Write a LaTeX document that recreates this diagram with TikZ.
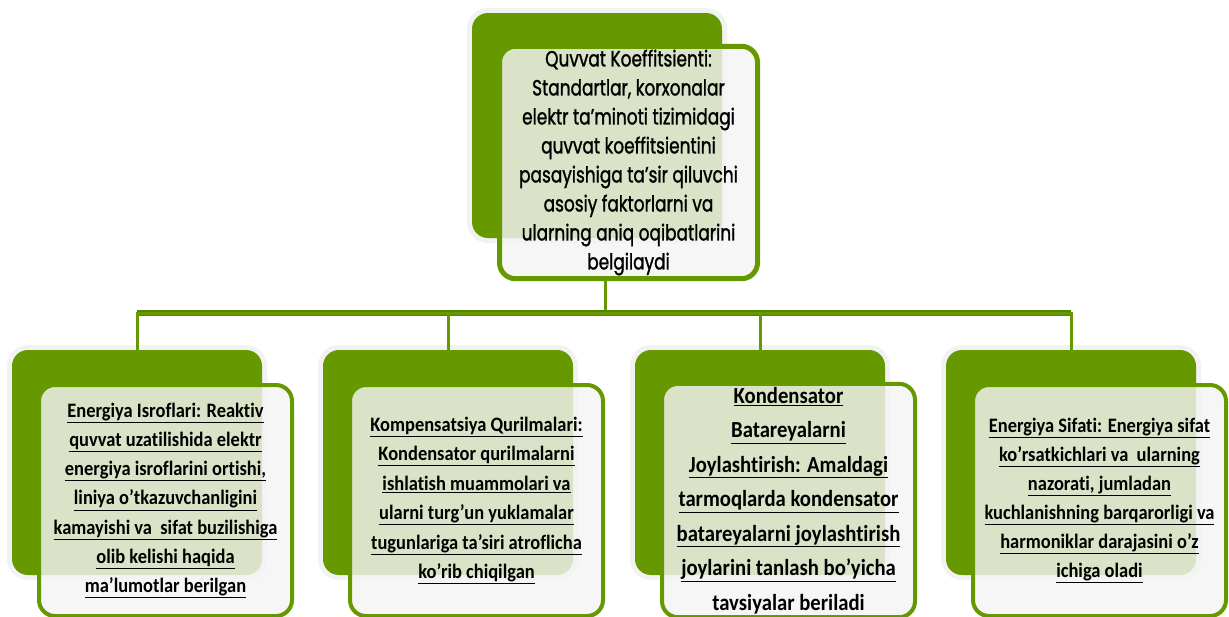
\documentclass[tikz,border=0pt]{standalone}
\usepackage{fontspec}
\setmainfont{Carlito}
\newfontfamily\gothic[FakeStretch=0.77, FakeBold=1.2]{Poppins}
\newfontfamily\calib[FakeStretch=0.9, Ligatures=NoCommon]{Carlito}
\definecolor{leaf}{RGB}{102,153,0}
\definecolor{paper}{RGB}{244,244,244}

\begin{document}
\begin{tikzpicture}
	[x=1pt, y=-1pt,
	back/.style={fill=leaf, rounded corners=16pt, minimum width=250pt, minimum height=225pt,
		preaction={draw=black!5, line width=10pt}},
	front/.style={draw=leaf, line width=4pt, fill=paper, fill opacity=0.82, text opacity=1,
		rounded corners=16pt, minimum width=253pt, minimum height=231pt, align=center},
	link/.style={leaf, line width=3pt},
	bus/.style={leaf!85!black, line width=6pt}]

	\clip (0,0) rectangle (1229,616);

	% Draw top box
	\node[back] (topback) at (597,125.5) {};
	\node[front, line width=5pt, minimum width=258pt, minimum height=230pt,
		font=\gothic\fontsize{22}{29}\selectfont] (top) at (628.5,162.5)
		{Quvvat Koeffitsienti:\\ Standartlar, korxonalar\\ elektr ta’minoti tizimidagi\\
		 quvvat koeffitsientini\\ pasayishiga ta’sir qiluvchi\\ asosiy faktorlarni va\\
		 ularning aniq oqibatlarini\\ belgilaydi};

	% Draw lower boxes
	\foreach \i/\x in {1/137, 2/448, 3/760, 4/1071}
	{
		\node[back] (b\i) at (\x,462.5) {};
		\coordinate (f\i) at (\x+28.5,500.5);
	}

	\node[front, font=\calib\bfseries\fontsize{20.5}{29.2}\selectfont] (box1) at (f1)
		{\underline{Energiya Isroflari: Reaktiv}\\ \underline{quvvat uzatilishida elektr}\\
		 \underline{energiya isroflarini ortishi,}\\ \underline{liniya o’tkazuvchanligini}\\
		 \underline{kamayishi va\ \ sifat buzilishiga}\\ \underline{olib kelishi haqida}\\
		 \underline{ma’lumotlar berilgan}};
	\node[front, font=\calib\bfseries\fontsize{20.5}{29.4}\selectfont] (box2) at (f2)
		{\underline{Kompensatsiya Qurilmalari:}\\ \underline{Kondensator qurilmalarni}\\
		 \underline{ishlatish muammolari va}\\ \underline{ularni turg’un yuklamalar}\\
		 \underline{tugunlariga ta’siri atroflicha}\\ \underline{ko’rib chiqilgan}};
	\node[front, font=\calib\bfseries\fontsize{23}{34.5}\selectfont] (box3) at (f3)
		{\underline{Kondensator}\\ \underline{Batareyalarni}\\
		 \underline{Joylashtirish: Amaldagi}\\ \underline{tarmoqlarda kondensator}\\
		 \underline{batareyalarni joylashtirish}\\ \underline{joylarini tanlash bo’yicha}\\
		 tavsiyalar beriladi};
	\node[front, font=\calib\bfseries\fontsize{20.5}{29}\selectfont] (box4) at (f4)
		{\underline{Energiya Sifati: Energiya sifat}\\ \underline{ko’rsatkichlari va\ \ ularning}\\
		 \underline{nazorati, jumladan}\\ \underline{kuchlanishning barqarorligi va}\\
		 \underline{harmoniklar darajasini o’z}\\ \underline{ichiga oladi}};

	% Draw connectors
	\coordinate (hub) at (605,313);
	\draw[link] (hub |- top.south) -- (hub);
	\draw[bus] (b1.north |- hub) -- (b4.north |- hub);
	\foreach \i in {1,...,4}
		\draw[link] (hub) -| (b\i.north);

\end{tikzpicture}
\end{document}
